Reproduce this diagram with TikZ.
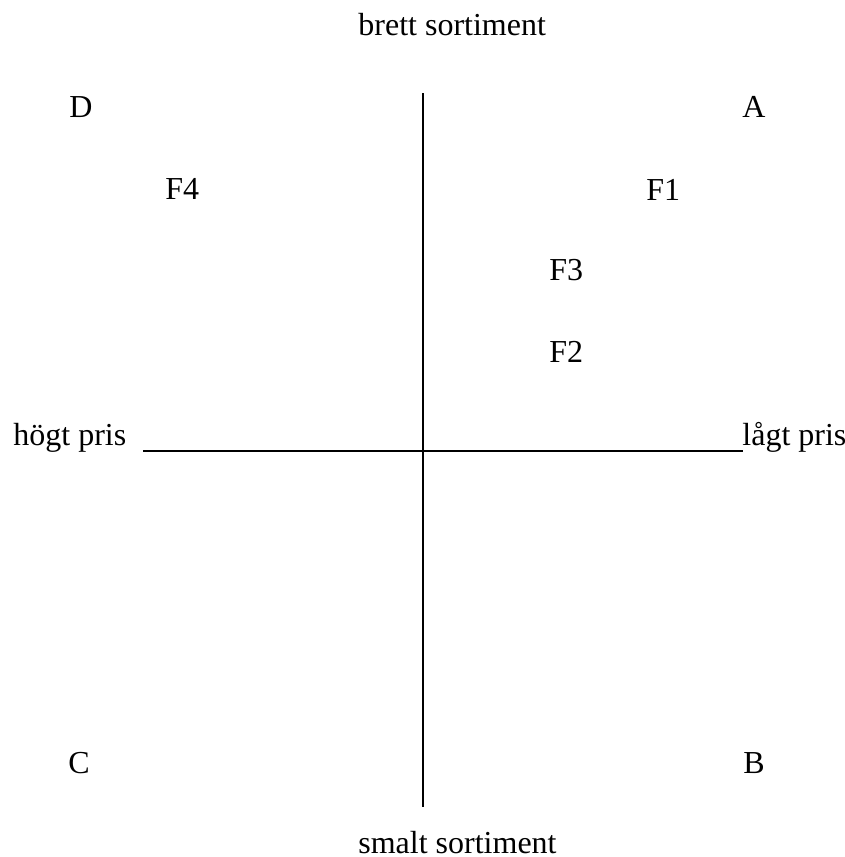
\documentclass[tikz,border=0pt]{standalone}
\usepackage{fontspec}
\setmainfont{Liberation Serif}

\begin{document}
\begin{tikzpicture}
    [x=0.5pt,y=-0.5pt,
    % Styles
    axis line/.style={line width=1pt},
    label text/.style={anchor=base west,inner sep=0pt,font=\fontsize{16}{19}\selectfont}]

    \useasboundingbox (0,0) rectangle (845,857);

    % Axes
    \coordinate (top) at (423,93);
    \coordinate (bottom) at (423,807);
    \coordinate (left) at (143,451);
    \coordinate (right) at (743,451);
    \draw[axis line] (top) -- (bottom);
    \draw[axis line] (left) -- (right);

    % Axis texts
    \node[label text] (brett) at (358,35) {brett sortiment};
    \node[label text] (smalt) at (358,853) {smalt sortiment};
    \node[label text] (hogt) at (13,445) {högt pris};
    \node[label text] (lagt) at (742,445) {lågt pris};

    % Quadrants
    \foreach \name/\x/\y in {D/69/117, A/742/117, C/68/773, B/743/773}
        \node[label text] (\name) at (\x,\y) {\name};

    % Companies
    \foreach \name/\x/\y in {F4/165/199, F1/646/200, F3/549/280, F2/549/362}
        \node[label text] (\name) at (\x,\y) {\name};

\end{tikzpicture}
\end{document}
